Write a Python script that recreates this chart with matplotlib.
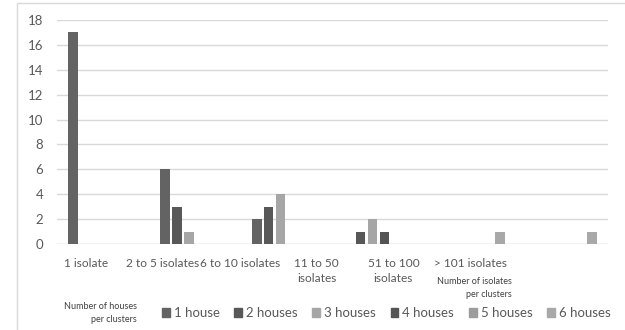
import numpy as np
import matplotlib
matplotlib.use("Agg")
import matplotlib.pyplot as plt
from matplotlib.patches import Rectangle, Patch

plt.rcParams['font.family'] = ['Lato', 'DejaVu Sans']

categories = ["1 isolate", "2 to 5 isolates", "6 to 10 isolates",
              "11 to 50\nisolates", "51 to 100\nisolates", "> 101 isolates"]
series = ["1 house", "2 houses", "3 houses", "4 houses", "5 houses", "6 houses"]
# rows = series, cols = categories
values = [
    [17, 6, 2, 0, 0, 0],
    [0, 3, 3, 1, 0, 0],
    [0, 1, 4, 2, 0, 0],
    [0, 0, 0, 1, 0, 0],
    [0, 0, 0, 0, 0, 0],
    [0, 0, 0, 0, 1, 1],
]
colors = ["#636363", "#585858", "#a6a6a6", "#545454", "#9c9c9c", "#a8a8a8"]

txt = "#595959"
grid = "#d9d9d9"

fig = plt.figure(figsize=(6.25, 3.3), dpi=100)
ax = fig.add_axes([57/625, 86/330, 551/625, 224/330])

x = np.arange(len(categories))
pitch = 0.13
width = 0.105
for i, (name, vals) in enumerate(zip(series, values)):
    ax.bar(x + (i - 2.5) * pitch, vals, width, color=colors[i], label=name, zorder=3)

ax.set_xlim(-0.5, len(categories) - 0.5)
ax.set_ylim(0, 18)
ax.set_yticks(np.arange(0, 19, 2))
ax.yaxis.grid(True, color=grid, lw=1, zorder=0)
for s in ax.spines.values():
    s.set_visible(False)
ax.axhline(0, color=grid, lw=1, zorder=2)
ax.tick_params(axis='y', length=0, pad=10, labelsize=9.5, labelcolor=txt)

# category labels sit shifted left in the original picture
ax.set_xticks(x * 0.837 - 0.185)
ax.set_xticklabels(categories, linespacing=1.45)
ax.tick_params(axis='x', length=0, pad=10, labelsize=8.6, labelcolor=txt)

handles = [Patch(color=c) for c in colors]
fig.legend(handles, series, loc='center left', bbox_to_anchor=(162/625, 17/330),
           ncol=6, frameon=False, handlelength=0.6, handleheight=0.6,
           handletextpad=0.3, columnspacing=1.1, fontsize=9.5, labelcolor=txt,
           borderaxespad=0, borderpad=0)

fig.text(137/625, 17/330, "Number of houses\nper clusters", ha='right', va='center',
         fontsize=6.5, color="#404040", linespacing=1.5)
fig.text(512/625, 42/330, "Number of isolates\nper clusters", ha='right', va='center',
         fontsize=6.5, color="#404040", linespacing=1.5)

# chart frame
fig.patches.append(Rectangle((17/625, -0.1), 1.0, 327/330 + 0.1, transform=fig.transFigure,
                             fill=False, edgecolor=grid, lw=1))

fig.savefig("out.png", dpi=100)
